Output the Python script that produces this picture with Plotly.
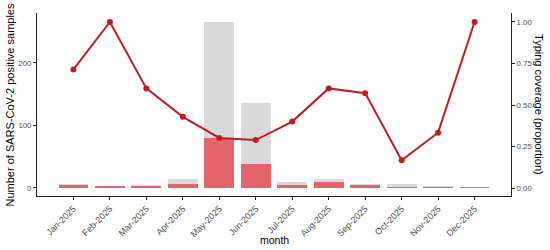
import plotly.graph_objects as go

months = ["Jan-2025", "Feb-2025", "Mar-2025", "Apr-2025", "May-2025", "Jun-2025",
          "Jul-2025", "Aug-2025", "Sep-2025", "Oct-2025", "Nov-2025", "Dec-2025"]
total_positive = [7, 2, 5, 14, 265, 135, 10, 15, 7, 6, 3, 1]
typed = [5, 2, 3, 6, 80, 39, 4, 9, 4, 1, 1, 1]
coverage = [t / p for t, p in zip(typed, total_positive)]

xi = list(range(len(months)))
font = "Liberation Sans, Arial, sans-serif"

fig = go.Figure()
fig.add_trace(go.Bar(x=xi, y=total_positive, width=0.82, marker_color="#d9d9d9",
                     marker_line_width=0, showlegend=False))
fig.add_trace(go.Bar(x=xi, y=typed, width=0.82, marker_color="#e5636a",
                     marker_line_width=0, showlegend=False))
fig.add_trace(go.Scatter(x=xi, y=coverage, yaxis="y2", mode="lines+markers",
                         line=dict(color="#bd1e24", width=2),
                         marker=dict(color="#bd1e24", size=6), showlegend=False))

fig.update_layout(
    width=550, height=250,
    margin=dict(l=37, r=39, t=13, b=54, autoexpand=False),
    paper_bgcolor="white", plot_bgcolor="white",
    barmode="overlay", bargap=0,
    font=dict(family=font, size=9, color="#4d4d4d"),
    xaxis=dict(range=[-1.0, 12.0], tickmode="array", tickvals=xi, ticktext=months,
               tickangle=-45, showline=True, linecolor="#222", linewidth=1,
               ticks="outside", ticklen=3, tickcolor="#222", showgrid=False,
               zeroline=False, automargin=False,
               tickfont=dict(size=9, color="#4d4d4d")),
    yaxis=dict(range=[-12.8, 279.5], tickvals=[0, 100, 200], showline=True,
               linecolor="#222", linewidth=1, ticks="outside", ticklen=3,
               tickcolor="#222", showgrid=False, zeroline=False, automargin=False,
               tickfont=dict(size=7.8, color="#4d4d4d")),
    yaxis2=dict(range=[-0.048, 1.054], overlaying="y", side="right",
                tickvals=[0, 0.25, 0.5, 0.75, 1.0], tickformat=".2f",
                showline=True, linecolor="#222", linewidth=1, ticks="outside",
                ticklen=3, tickcolor="#222", showgrid=False, zeroline=False,
                automargin=False, tickfont=dict(size=7.8, color="#4d4d4d")),
    annotations=[
        dict(text="month", xref="paper", yref="paper", x=0.5, y=-0.24, yanchor="middle",
             showarrow=False, font=dict(size=10.5, color="black", family=font)),
        dict(text="Number of SARS-CoV-2 positive samples", xref="paper", yref="paper",
             x=-0.057, y=0.5, xanchor="center", yanchor="middle", textangle=-90,
             showarrow=False, font=dict(size=11, color="black", family=font)),
        dict(text="Typing coverage (proportion)", xref="paper", yref="paper",
             x=1.06, y=0.5, xanchor="center", yanchor="middle", textangle=90,
             showarrow=False, font=dict(size=11, color="black", family=font)),
    ],
)

fig.write_html("out.html")
